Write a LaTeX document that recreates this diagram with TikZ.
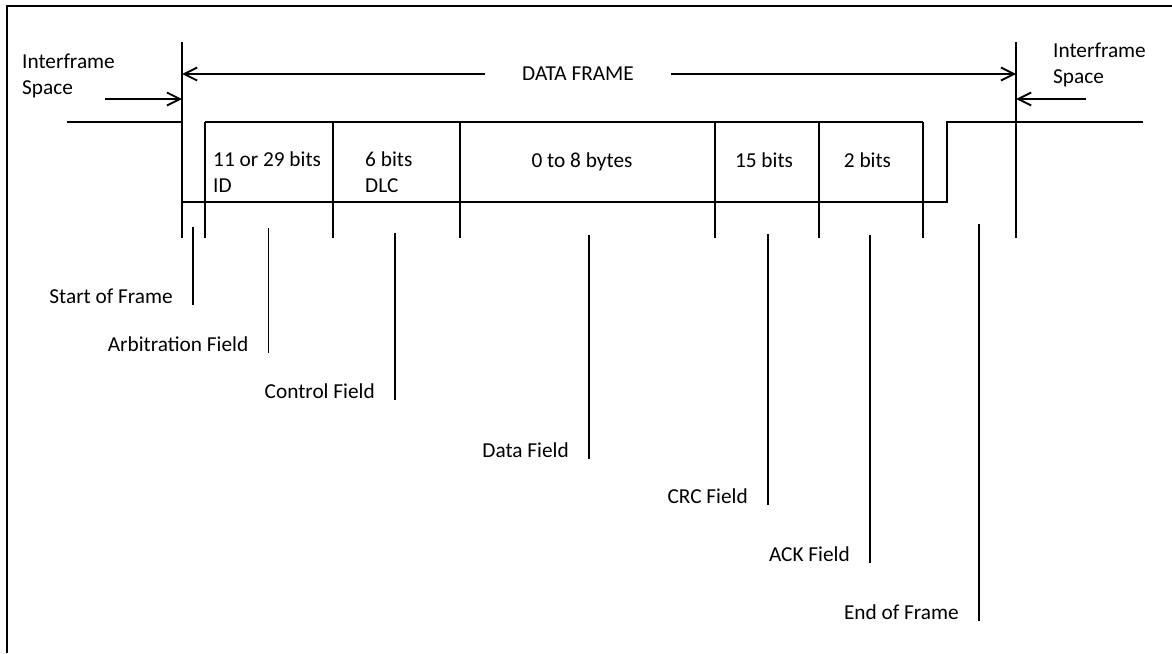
\documentclass[tikz,border=0pt]{standalone}
\usepackage{fontspec}
\setmainfont{Carlito}
\usetikzlibrary{arrows.meta}
\begin{document}
\begin{tikzpicture}[x=1pt,y=-1pt,
  wire/.style={line width=1.9pt},
  barb/.style={-{Straight Barb[length=13pt,width=13pt]}},
  txt/.style={inner sep=0pt,font=\fontsize{21.3}{26}\selectfont},
  lbl/.style={txt,anchor=base east}]
\useasboundingbox (0,0) rectangle (1172,653);

% frame edges
\draw[wire] (7,653) -- (7,6) -- (1172,6);

% start / end of data frame markers
\coordinate (sL) at (182,42);  \coordinate (sLb) at (182,238);
\coordinate (eR) at (1016,42); \coordinate (eRb) at (1016,238);
\draw[wire] (sL) -- (sLb);
\draw[wire] (eR) -- (eRb);

% DATA FRAME span
\node[txt,inner xsep=37pt] (df) at (578,74) {DATA FRAME};
\coordinate (dfl) at (182,74);
\coordinate (dfr) at (1016,74);
\draw[wire,barb] (df.west) -- (dfl);
\draw[wire,barb] (df.east) -- (dfr);

% interframe spaces (base anchor sits on the last line)
\node[txt,align=left,anchor=base west] (ifsL) at (22,94) {Interframe\\Space};
\node[txt,align=left,anchor=base west] (ifsR) at (1053,83) {Interframe\\Space};
\coordinate (ifa) at (105,99);  \coordinate (ifat) at (182,99);
\coordinate (ifb) at (1086,99); \coordinate (ifbt) at (1016,99);
\draw[wire,barb] (ifa) -- (ifat);
\draw[wire,barb] (ifb) -- (ifbt);

% bus level
\draw[wire] (67,122) -- (182,122);
\draw[wire] (182,202) -- (946.7,202) -- (946.7,122) -- (1143,122);

% field boxes
\draw[wire] (205,122) -- (923,122);
\foreach \x in {205,333,460,715,819,923}
  \draw[wire] (\x,122) -- (\x,238);

% field contents
\node[txt,align=left,anchor=base west] (fid) at (213,192) {11 or 29 bits\\ID};
\node[txt,align=left,anchor=base west] (fdlc) at (365,192) {6 bits\\DLC};
\node[txt,anchor=base] (fdata) at (582,167) {0 to 8 bytes};
\node[txt,anchor=base] (fcrc) at (764,167) {15 bits};
\node[txt,anchor=base] (fack) at (867.5,167) {2 bits};

% field callouts
\foreach \nm/\x/\yt/\yb/\t in {
    sof/193/227/305/Start of Frame,
    arb/268.5/228/353/Arbitration Field,
    ctl/395/233/400/Control Field,
    dat/589/235/459/Data Field,
    crc/768/234/505/CRC Field,
    ack/870/235/563/ACK Field,
    eof/979/224/621/End of Frame} {
  \coordinate (\nm t) at (\x,\yt);
  \coordinate (\nm b) at (\x,\yb);
  \draw[wire] (\nm t) -- (\nm b);
  \node[lbl] (\nm) at (\x-20,\yb-2) {\t};
}
\end{tikzpicture}
\end{document}
